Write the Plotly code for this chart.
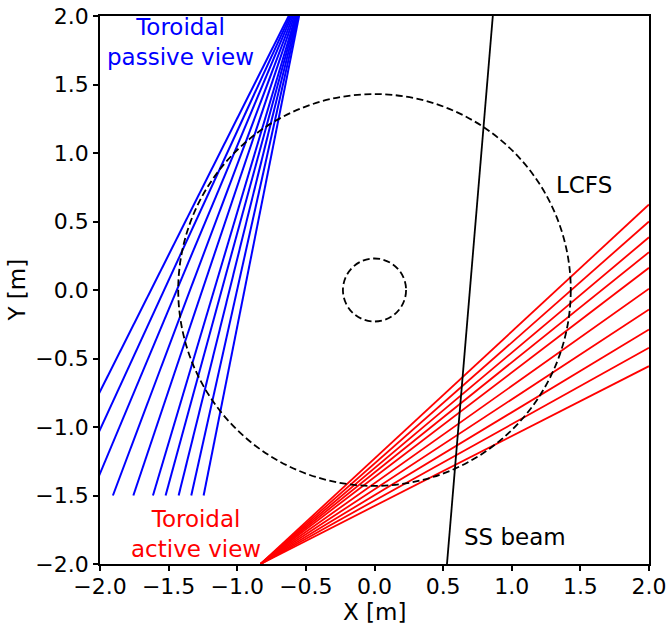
import plotly.graph_objects as go

# ---- data ----
lcfs_radius = 1.43
inner_radius = 0.23

# passive (blue) view: common origin and end points on y = -1.5
passive_origin = (-0.50, 2.25)
passive_end_y = -1.5
passive_end_x = [-2.381, -2.221, -2.067, -1.906, -1.757, -1.614, -1.522, -1.427, -1.335, -1.245]

# active (red) view: common origin and end points on x = 2
active_origin = (-0.83, -2.0)
active_end_x = 2.0
active_end_y = [0.624, 0.500, 0.385, 0.276, 0.162, 0.009, -0.142, -0.288, -0.422, -0.556]

# SS beam
beam_x = [0.528, 0.862]
beam_y = [-2.0, 2.0]

tick_vals = [-2.0, -1.5, -1.0, -0.5, 0.0, 0.5, 1.0, 1.5, 2.0]
tick_text = ["\u22122.0", "\u22121.5", "\u22121.0", "\u22120.5", "0.0", "0.5", "1.0", "1.5", "2.0"]

FONT = "DejaVu Sans"
TICK_SIZE = 22
TEXT_SIZE = 23

fig = go.Figure()

for ex in passive_end_x:
    fig.add_trace(go.Scatter(x=[passive_origin[0], ex], y=[passive_origin[1], passive_end_y],
                             mode="lines", line=dict(color="#0000ff", width=2),
                             showlegend=False, hoverinfo="skip"))

for ey in active_end_y:
    fig.add_trace(go.Scatter(x=[active_origin[0], active_end_x], y=[active_origin[1], ey],
                             mode="lines", line=dict(color="#ff0000", width=1.8),
                             showlegend=False, hoverinfo="skip"))

fig.add_trace(go.Scatter(x=beam_x, y=beam_y, mode="lines",
                         line=dict(color="black", width=1.8),
                         showlegend=False, hoverinfo="skip"))

for r in [lcfs_radius, inner_radius]:
    fig.add_shape(type="circle", xref="x", yref="y", x0=-r, y0=-r, x1=r, y1=r,
                  line=dict(color="black", width=1.8, dash="7px,3.5px"))

ann_font = dict(family=FONT, size=TEXT_SIZE)
fig.add_annotation(x=-1.41, y=1.81, text="Toroidal<br>passive view", showarrow=False,
                   font=dict(ann_font, color="#0000ff"), align="center")
fig.add_annotation(x=-1.30, y=-1.78, text="Toroidal<br>active view", showarrow=False,
                   font=dict(ann_font, color="#ff0000"), align="center")
fig.add_annotation(x=1.31, y=0.763, text="LCFS", showarrow=False, xanchor="left",
                   font=dict(ann_font, color="black"))
fig.add_annotation(x=0.637, y=-1.80, text="SS beam", showarrow=False, xanchor="left",
                   font=dict(ann_font, color="black"))

# axis titles
fig.add_annotation(x=0.5, y=-0.087, xref="paper", yref="paper", text="X [m]",
                   showarrow=False, font=ann_font, xanchor="center", yanchor="middle")
fig.add_annotation(x=-0.152, y=0.5, xref="paper", yref="paper", text="Y [m]",
                   showarrow=False, font=ann_font, textangle=-90,
                   xanchor="center", yanchor="middle")

axis_common = dict(range=[-2, 2], tickvals=tick_vals, ticktext=tick_text,
                   showgrid=False, zeroline=False, showline=True, mirror=True,
                   linecolor="black", linewidth=1.8, ticks="outside", ticklen=5,
                   tickwidth=1.5, tickcolor="black", automargin=False,
                   tickfont=dict(family=FONT, size=TICK_SIZE, color="black"))

fig.update_layout(
    width=667, height=624,
    margin=dict(l=100, r=18, t=16, b=60),
    paper_bgcolor="white", plot_bgcolor="white",
    font=dict(family=FONT, color="black"),
    xaxis=dict(axis_common, ticklabelstandoff=-3),
    yaxis=axis_common,
)

fig.write_html("out.html", config={"displayModeBar": False},
               post_script="document.body.style.margin='0';document.body.style.padding='0';")
